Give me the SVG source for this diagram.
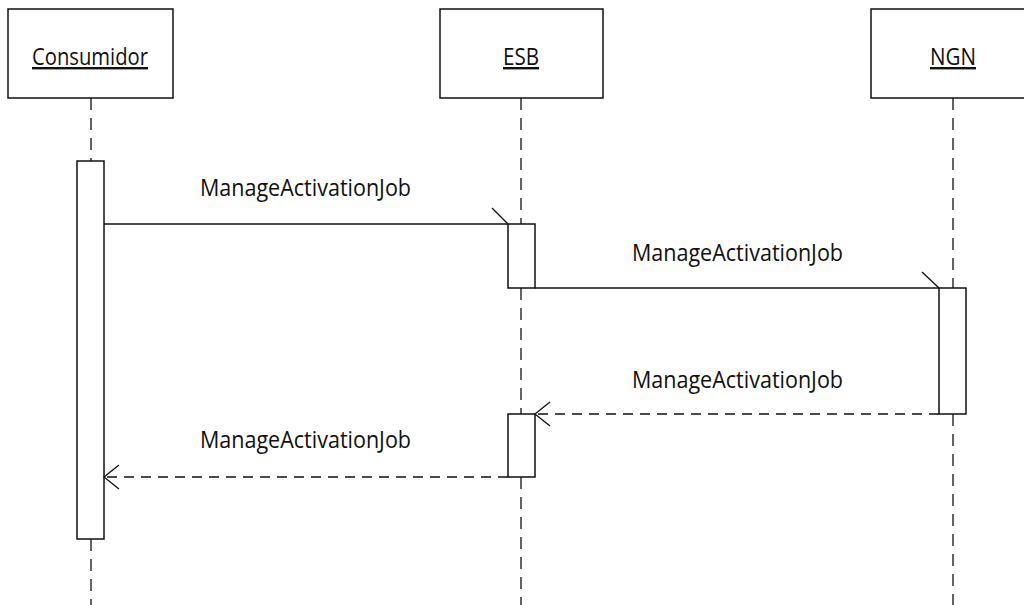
<svg xmlns="http://www.w3.org/2000/svg" width="1024" height="605" viewBox="0 0 1024 605">
  <style>
    .box { fill: #fff; stroke: #111; stroke-width: 1.5; }
    .act { fill: #fff; stroke: #111; stroke-width: 1.5; }
    .life { stroke: #111; stroke-width: 1.3; stroke-dasharray: 12 8; fill: none; }
    .msg { stroke: #111; stroke-width: 1.3; fill: none; }
    .ret { stroke: #111; stroke-width: 1.3; fill: none; stroke-dasharray: 10 7; }
    .head { stroke: #111; stroke-width: 1.3; fill: none; }
    .name { font-family: "Open Sans", "Liberation Sans", sans-serif; font-size: 24px; fill: #111; text-decoration: underline; }
    .lbl { font-family: "Open Sans", "Liberation Sans", sans-serif; font-size: 23px; fill: #111; }
  </style>
  <rect width="1024" height="605" fill="#fff"/>

  <!-- lifelines -->
  <g id="lifelines">
    <line class="life" x1="91" y1="98" x2="91" y2="161"/>
    <line class="life" x1="91" y1="539" x2="91" y2="605"/>
    <line class="life" x1="521" y1="98" x2="521" y2="224"/>
    <line class="life" x1="521" y1="288" x2="521" y2="414"/>
    <line class="life" x1="521" y1="477" x2="521" y2="605"/>
    <line class="life" x1="953" y1="98" x2="953" y2="288"/>
    <line class="life" x1="953" y1="414" x2="953" y2="605"/>
  </g>

  <g id="consumidor">
    <rect class="box" x="8" y="9" width="165" height="89"/>
    <text class="name" x="32" y="65" textLength="116" lengthAdjust="spacingAndGlyphs">Consumidor</text>
    <rect class="act" x="77" y="161" width="27" height="378"/>
  </g>

  <g id="esb">
    <rect class="box" x="440" y="9" width="163" height="89"/>
    <text class="name" x="503" y="65" textLength="36" lengthAdjust="spacingAndGlyphs">ESB</text>
    <rect class="act" x="508" y="224" width="27" height="64"/>
    <rect class="act" x="508" y="414" width="27" height="63"/>
  </g>

  <g id="ngn">
    <rect class="box" x="871" y="9" width="170" height="89"/>
    <text class="name" x="930" y="65" textLength="46" lengthAdjust="spacingAndGlyphs">NGN</text>
    <rect class="act" x="939" y="288" width="27" height="126"/>
  </g>

  <!-- messages -->
  <g id="connectors">
    <line class="msg" x1="104" y1="224" x2="508" y2="224"/>
    <line class="head" x1="508" y1="224" x2="492" y2="208"/>
    <text class="lbl" x="200" y="196" textLength="211" lengthAdjust="spacingAndGlyphs">ManageActivationJob</text>

    <line class="msg" x1="535" y1="288" x2="939" y2="288"/>
    <line class="head" x1="939" y1="288" x2="922" y2="272"/>
    <text class="lbl" x="632" y="261" textLength="211" lengthAdjust="spacingAndGlyphs">ManageActivationJob</text>

    <line class="ret" x1="939" y1="414" x2="535" y2="414"/>
    <polyline class="head" points="550,402 535,414 550,426"/>
    <text class="lbl" x="632" y="388" textLength="211" lengthAdjust="spacingAndGlyphs">ManageActivationJob</text>

    <line class="ret" x1="508" y1="477" x2="104" y2="477"/>
    <polyline class="head" points="119,465 104,477 119,489"/>
    <text class="lbl" x="200" y="448" textLength="211" lengthAdjust="spacingAndGlyphs">ManageActivationJob</text>
  </g>
</svg>
